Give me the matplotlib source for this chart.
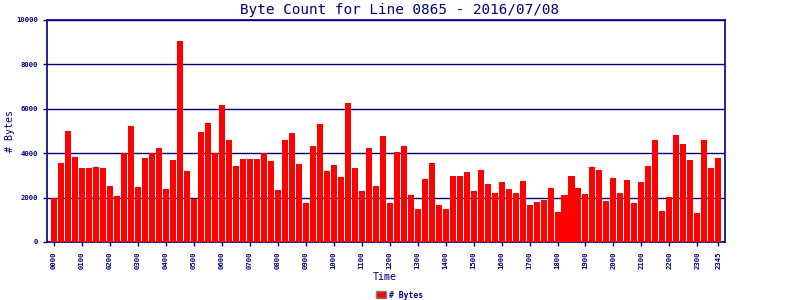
import matplotlib

matplotlib.use("Agg")
import matplotlib.pyplot as plt
from matplotlib.patches import Patch
import numpy as np

NAVY = "#000080"
RED = "#ff0000"

# 15-minute slots 0000 .. 2345
TIMES = [f"{h:02d}{m:02d}" for h in range(24) for m in (0, 15, 30, 45)]
BYTES = [
    1980, 3560, 5000, 3830, 3330, 3330, 3380, 3330, 2520, 2070, 4000, 5230,
    2480, 3780, 4000, 4230, 2390, 3690, 9050, 3200, 1940, 4950, 5360, 4000,
    6170, 4600, 3420, 3740, 3740, 3740, 4000, 3650, 2340, 4600, 4910, 3510,
    1760, 4320, 5320, 3200, 3470, 2930, 6260, 3330, 2300, 4230, 2520, 4780,
    1760, 4050, 4320, 2120, 1490, 2840, 3560, 1670, 1490, 2970, 2970, 3150,
    2300, 3240, 2610, 2210, 2700, 2390, 2210, 2750, 1670, 1800, 1890, 2430,
    1350, 2120, 2970, 2430, 2160, 3380, 3240, 1850, 2880, 2210, 2790, 1760,
    2700, 3420, 4600, 1400, 2030, 4820, 4410, 3690, 1310, 4600, 3330, 3780,
]
TICK_LABELS = [t for i, t in enumerate(TIMES) if i % 4 == 0] + [TIMES[-1]]
TICK_POS = [i for i in range(len(TIMES)) if i % 4 == 0] + [len(TIMES) - 1]

plt.rcParams["font.family"] = "DejaVu Sans Mono"

fig = plt.figure(figsize=(8, 3), dpi=100, facecolor="white")
ax = fig.add_axes([47 / 800, 1 - 242 / 300, 678 / 800, 222 / 300])

x = np.arange(len(BYTES))
ax.bar(x, BYTES, width=0.86, color=RED, zorder=3)

ax.set_xlim(-1.0, 95.95)
ax.set_ylim(0, 10000)
ax.set_yticks(range(0, 10001, 2000))
ax.set_yticklabels([str(v) for v in range(0, 10001, 2000)],
                   fontsize=5.2, color=NAVY, fontweight="bold")
ax.set_xticks(TICK_POS)
ax.set_xticklabels(TICK_LABELS, rotation=90, fontsize=5.2, color=NAVY,
                   fontweight="bold")
ax.tick_params(axis="both", colors=NAVY, length=3, width=1)
ax.grid(axis="y", color=NAVY, lw=1, zorder=1)
for s in ax.spines.values():
    s.set_color(NAVY)
    s.set_linewidth(1.2)

fig.text(0.5, 1 - 10 / 300, "Byte Count for Line 0865 - 2016/07/08",
         ha="center", va="center", fontsize=10.4, color=NAVY)
fig.text(10 / 800, 1 - 131 / 300, "# Bytes", rotation=90, ha="center",
         va="center", fontsize=7.2, color=NAVY)
fig.text(385 / 800, 1 - 277 / 300, "Time", ha="center", va="center",
         fontsize=7.2, color=NAVY)

handle = Patch(facecolor=RED, edgecolor="#808080", lw=1)
fig.legend([handle], ["# Bytes"], loc="center", bbox_to_anchor=(400 / 800, 1 - 295 / 300),
           frameon=False, fontsize=5.8, labelcolor=NAVY, handlelength=1.2,
           handleheight=0.9, handletextpad=0.4, prop={"weight": "bold", "size": 5.8})

fig.savefig("out.png", dpi=100, facecolor="white")
